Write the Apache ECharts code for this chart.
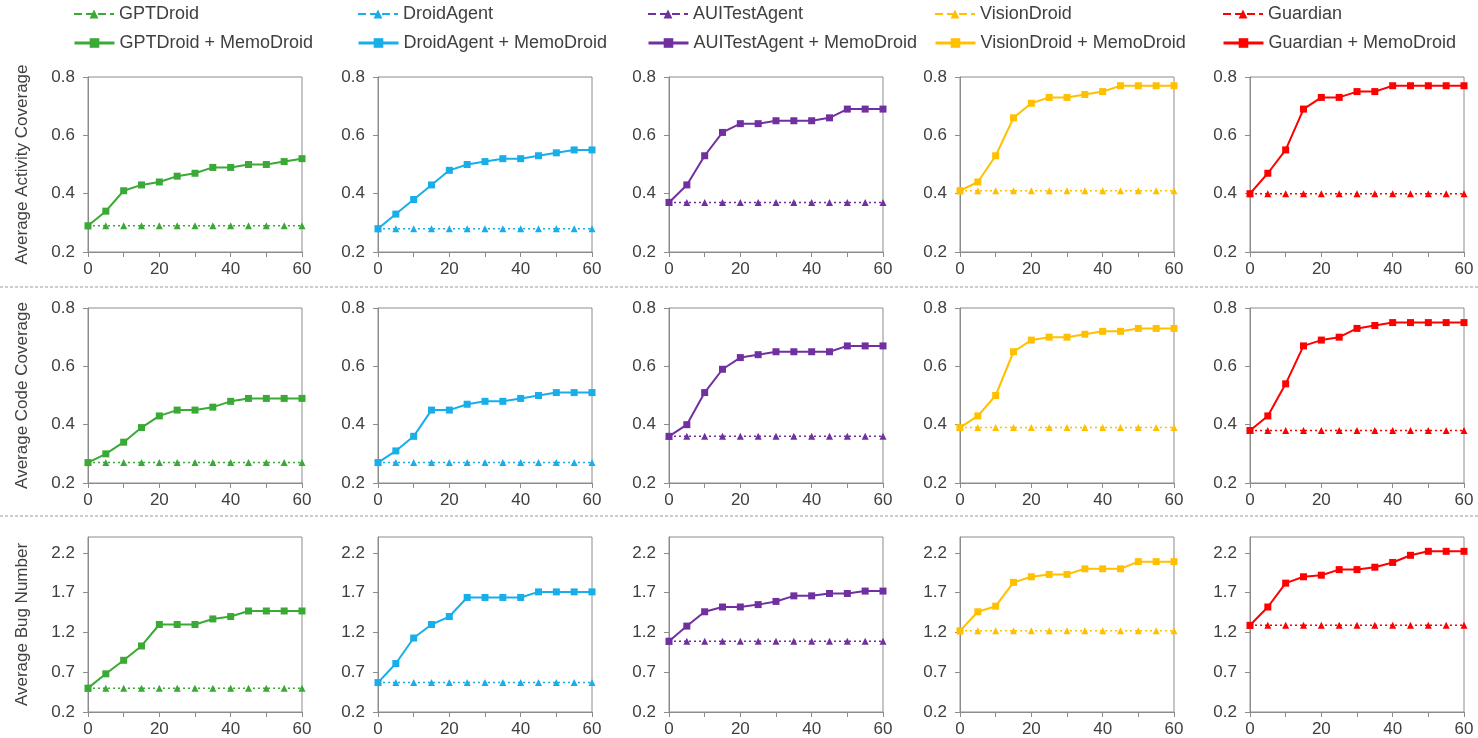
<!DOCTYPE html>
<html>
<head>
<meta charset="utf-8">
<script src="https://cdn.jsdelivr.net/npm/echarts@6/dist/echarts.min.js"></script>
<style>
html,body{margin:0;padding:0;background:#fff;}
#chart{width:1478px;height:738px;}
</style>
</head>
<body>
<div id="chart"></div>
<script>
// ---------- data ----------
const minutes = [0, 5, 10, 15, 20, 25, 30, 35, 40, 45, 50, 55, 60];
const tools = ['GPTDroid', 'DroidAgent', 'AUITestAgent', 'VisionDroid', 'Guardian'];
const metricNames = ['Average Activity Coverage', 'Average Code Coverage', 'Average Bug Number'];
const coverageTicks = [0.2, 0.4, 0.6, 0.8];
const bugTicks = [0.2, 0.7, 1.2, 1.7, 2.2];

// Activity coverage
const actGPTDroid      = [0.29,0.29,0.29,0.29,0.29,0.29,0.29,0.29,0.29,0.29,0.29,0.29,0.29];
const actGPTDroidMemo  = [0.29,0.34,0.41,0.43,0.44,0.46,0.47,0.49,0.49,0.50,0.50,0.51,0.52];
const actDroidAgent    = [0.28,0.28,0.28,0.28,0.28,0.28,0.28,0.28,0.28,0.28,0.28,0.28,0.28];
const actDroidAgentMemo= [0.28,0.33,0.38,0.43,0.48,0.50,0.51,0.52,0.52,0.53,0.54,0.55,0.55];
const actAUI           = [0.37,0.37,0.37,0.37,0.37,0.37,0.37,0.37,0.37,0.37,0.37,0.37,0.37];
const actAUIMemo       = [0.37,0.43,0.53,0.61,0.64,0.64,0.65,0.65,0.65,0.66,0.69,0.69,0.69];
const actVision        = [0.41,0.41,0.41,0.41,0.41,0.41,0.41,0.41,0.41,0.41,0.41,0.41,0.41];
const actVisionMemo    = [0.41,0.44,0.53,0.66,0.71,0.73,0.73,0.74,0.75,0.77,0.77,0.77,0.77];
const actGuardian      = [0.40,0.40,0.40,0.40,0.40,0.40,0.40,0.40,0.40,0.40,0.40,0.40,0.40];
const actGuardianMemo  = [0.40,0.47,0.55,0.69,0.73,0.73,0.75,0.75,0.77,0.77,0.77,0.77,0.77];

// Code coverage
const codeGPTDroid      = [0.27,0.27,0.27,0.27,0.27,0.27,0.27,0.27,0.27,0.27,0.27,0.27,0.27];
const codeGPTDroidMemo  = [0.27,0.30,0.34,0.39,0.43,0.45,0.45,0.46,0.48,0.49,0.49,0.49,0.49];
const codeDroidAgent    = [0.27,0.27,0.27,0.27,0.27,0.27,0.27,0.27,0.27,0.27,0.27,0.27,0.27];
const codeDroidAgentMemo= [0.27,0.31,0.36,0.45,0.45,0.47,0.48,0.48,0.49,0.50,0.51,0.51,0.51];
const codeAUI           = [0.36,0.36,0.36,0.36,0.36,0.36,0.36,0.36,0.36,0.36,0.36,0.36,0.36];
const codeAUIMemo       = [0.36,0.40,0.51,0.59,0.63,0.64,0.65,0.65,0.65,0.65,0.67,0.67,0.67];
const codeVision        = [0.39,0.39,0.39,0.39,0.39,0.39,0.39,0.39,0.39,0.39,0.39,0.39,0.39];
const codeVisionMemo    = [0.39,0.43,0.50,0.65,0.69,0.70,0.70,0.71,0.72,0.72,0.73,0.73,0.73];
const codeGuardian      = [0.38,0.38,0.38,0.38,0.38,0.38,0.38,0.38,0.38,0.38,0.38,0.38,0.38];
const codeGuardianMemo  = [0.38,0.43,0.54,0.67,0.69,0.70,0.73,0.74,0.75,0.75,0.75,0.75,0.75];

// Bug number
const bugGPTDroid      = [0.50,0.50,0.50,0.50,0.50,0.50,0.50,0.50,0.50,0.50,0.50,0.50,0.50];
const bugGPTDroidMemo  = [0.50,0.68,0.85,1.03,1.30,1.30,1.30,1.37,1.40,1.47,1.47,1.47,1.47];
const bugDroidAgent    = [0.57,0.57,0.57,0.57,0.57,0.57,0.57,0.57,0.57,0.57,0.57,0.57,0.57];
const bugDroidAgentMemo= [0.57,0.81,1.13,1.30,1.40,1.64,1.64,1.64,1.64,1.71,1.71,1.71,1.71];
const bugAUI           = [1.09,1.09,1.09,1.09,1.09,1.09,1.09,1.09,1.09,1.09,1.09,1.09,1.09];
const bugAUIMemo       = [1.09,1.28,1.46,1.52,1.52,1.55,1.59,1.66,1.66,1.69,1.69,1.72,1.72];
const bugVision        = [1.22,1.22,1.22,1.22,1.22,1.22,1.22,1.22,1.22,1.22,1.22,1.22,1.22];
const bugVisionMemo    = [1.22,1.46,1.53,1.83,1.90,1.93,1.93,2.00,2.00,2.00,2.09,2.09,2.09];
const bugGuardian      = [1.29,1.29,1.29,1.29,1.29,1.29,1.29,1.29,1.29,1.29,1.29,1.29,1.29];
const bugGuardianMemo  = [1.29,1.52,1.82,1.90,1.92,1.99,1.99,2.02,2.08,2.17,2.22,2.22,2.22];

const baseData = [
  [actGPTDroid, actDroidAgent, actAUI, actVision, actGuardian],
  [codeGPTDroid, codeDroidAgent, codeAUI, codeVision, codeGuardian],
  [bugGPTDroid, bugDroidAgent, bugAUI, bugVision, bugGuardian]
];
const memoData = [
  [actGPTDroidMemo, actDroidAgentMemo, actAUIMemo, actVisionMemo, actGuardianMemo],
  [codeGPTDroidMemo, codeDroidAgentMemo, codeAUIMemo, codeVisionMemo, codeGuardianMemo],
  [bugGPTDroidMemo, bugDroidAgentMemo, bugAUIMemo, bugVisionMemo, bugGuardianMemo]
];

// ---------- styling / layout ----------
const colors = ['#3AA935', '#17AEE9', '#7030A0', '#FFC000', '#FF0000'];
const gridLefts = [88, 378, 669, 960, 1250];
const gridTops = [77, 308, 537];
const gridHeights = [175, 175, 178];
const gridWidth = 214;
const axisColor = '#8c8c8c';
const textColor = '#404040';
const font = 'Liberation Sans, Arial, sans-serif';

const grids = [], xAxes = [], yAxes = [], series = [];
for (let r = 0; r < 3; r++) {
  for (let c = 0; c < 5; c++) {
    const idx = r * 5 + c;
    grids.push({left: gridLefts[c], top: gridTops[r], width: gridWidth, height: gridHeights[r],
      show: true, borderColor: axisColor, borderWidth: 1, backgroundColor: 'transparent'});
    xAxes.push({gridIndex: idx, type: 'value', min: 0, max: 60, interval: 10,
      axisLine: {show: true, onZero: false, lineStyle: {color: axisColor, width: 1}},
      axisTick: {show: true, length: 5, lineStyle: {color: axisColor}},
      axisLabel: {color: textColor, fontSize: 17, fontFamily: font, margin: 9,
        formatter: v => (v % 20 === 0 ? String(v) : '')},
      splitLine: {show: false}});
    const y = {gridIndex: idx, type: 'value',
      axisLine: {show: true, onZero: false, lineStyle: {color: axisColor, width: 1}},
      axisTick: {show: true, length: 5, lineStyle: {color: axisColor}},
      axisLabel: {color: textColor, fontSize: 17, fontFamily: font, margin: 13},
      splitLine: {show: false}};
    if (r < 2) {
      y.min = coverageTicks[0]; y.max = coverageTicks[coverageTicks.length - 1]; y.interval = 0.2;
      y.axisLabel.formatter = v => v.toFixed(1);
    } else {
      y.min = 0.2; y.max = 2.4;
      y.axisLabel.customValues = bugTicks;
      y.axisTick.customValues = bugTicks;
      y.axisLabel.formatter = v => v.toFixed(1);
    }
    if (c === 0) {
      y.name = metricNames[r];
      y.nameLocation = 'middle';
      y.nameGap = 57;
      y.nameTextStyle = {color: textColor, fontSize: 17, fontFamily: font};
    }
    yAxes.push(y);

    series.push({name: tools[c], type: 'line', xAxisIndex: idx, yAxisIndex: idx,
      data: minutes.map((m, i) => [m, baseData[r][c][i]]),
      symbol: 'triangle', symbolSize: 7, color: colors[c],
      lineStyle: {type: [2, 3], width: 1.5, color: colors[c]},
      itemStyle: {color: colors[c]}, z: 2});
    series.push({name: tools[c] + ' + MemoDroid', type: 'line', xAxisIndex: idx, yAxisIndex: idx,
      data: minutes.map((m, i) => [m, memoData[r][c][i]]),
      symbol: 'rect', symbolSize: 7, color: colors[c],
      lineStyle: {type: 'solid', width: 2, color: colors[c]},
      itemStyle: {color: colors[c]}, z: 3});
  }
}

const legendLefts = [73, 357, 647, 934, 1222];
const legendTops = [5, 34];
const legends = [];
for (let c = 0; c < 5; c++) {
  legends.push({data: [tools[c]], left: legendLefts[c], top: legendTops[0], itemWidth: 40, itemHeight: 11,
    itemGap: 5, padding: 0, lineStyle: {type: 'dashed', width: 2},
    textStyle: {color: textColor, fontSize: 18, fontFamily: font}});
  legends.push({data: [tools[c] + ' + MemoDroid'], left: legendLefts[c], top: legendTops[1], itemWidth: 40, itemHeight: 12,
    itemGap: 5, padding: 0, lineStyle: {width: 3},
    textStyle: {color: textColor, fontSize: 18, fontFamily: font}});
}

const separators = [287, 516].map(yy => ({type: 'line', shape: {x1: 0, y1: yy, x2: 1478, y2: yy},
  style: {stroke: '#9a9a9a', lineWidth: 1, lineDash: [3, 2]}}));

const chart = echarts.init(document.getElementById('chart'), null, {renderer: 'canvas'});
chart.setOption({
  animation: false,
  backgroundColor: '#ffffff',
  grid: grids, xAxis: xAxes, yAxis: yAxes, series: series,
  legend: legends,
  graphic: separators
});
</script>
</body>
</html>
